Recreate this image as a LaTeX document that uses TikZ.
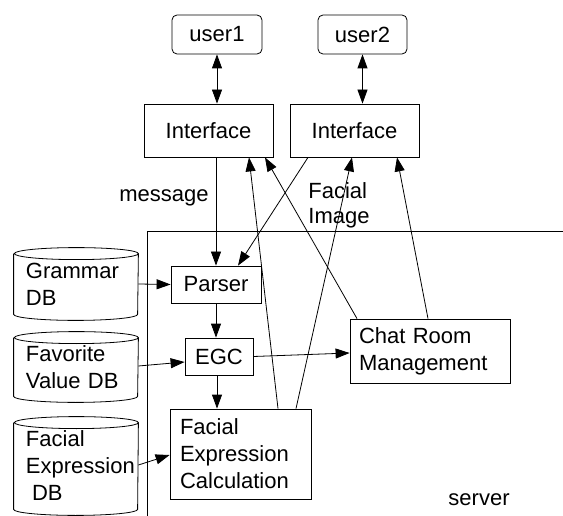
\documentclass[tikz,border=0pt]{standalone}
\usepackage{fontspec}
\setmainfont{Liberation Sans}
\usetikzlibrary{arrows.meta,calc}
\newcommand\drawdb[1]{%
  \draw ($(#1.north west)+(0,-6)$) -- ($(#1.south west)+(0,6)$)
    arc[start angle=180,end angle=360,x radius=62pt,y radius=6pt]
    -- ($(#1.north east)+(0,-6)$)
    arc[start angle=0,end angle=180,x radius=62pt,y radius=6pt]
    arc[start angle=180,end angle=360,x radius=62pt,y radius=6pt];}
\begin{document}
\begin{tikzpicture}[x=1pt,y=1pt,line width=0.8pt,
  font=\fontsize{22}{27}\selectfont,
  box/.style={draw,inner sep=0pt},
  ubox/.style={draw,rounded corners=5pt,inner sep=0pt},
  lbox/.style={draw,inner sep=0pt,align=left},
  db/.style={inner ysep=0pt,inner xsep=12pt,align=left,text width=100pt},
  arr/.style={-{Triangle[length=14pt,width=10pt]}},
  darr/.style={{Triangle[length=14pt,width=10pt]}-{Triangle[length=14pt,width=10pt]}}]
\useasboundingbox (0,0) rectangle (563,-516);
% server frame
\draw (563,-231) -- (147,-231) -- (147,-516);
% nodes
\node[ubox,minimum width=90pt,minimum height=39pt] (user1) at (217,-34.5) {user1};
\node[ubox,minimum width=89pt,minimum height=39pt] (user2) at (362.5,-34.5) {user2};
\node[box,minimum width=129pt,minimum height=53pt] (int1) at (208.5,-130.5) {Interface};
\node[box,minimum width=129pt,minimum height=53pt] (int2) at (354.5,-130.5) {Interface};
\node[box,minimum width=90pt,minimum height=37pt] (parser) at (216,-284.5) {Parser};
\node[box,minimum width=68pt,minimum height=37pt] (egc) at (219,-356.5) {EGC};
\node[lbox,minimum width=141pt,minimum height=90pt,text width=121pt] (fec) at (240.5,-454) {Facial\\Expression\\Calculation};
\node[lbox,minimum width=160pt,minimum height=64pt,text width=142pt] (chat) at (430,-351) {Chat Room\\Management};
\node[db,minimum height=72pt] (gdb) at (76,-284) {Grammar\\DB};
\node[db,minimum height=70pt] (fdb) at (76,-367) {Favorite\\Value DB};
\node[db,minimum height=98pt] (xdb) at (76,-466) {Facial\\Expression\\\hspace*{6pt}DB};
\drawdb{gdb}
\drawdb{fdb}
\drawdb{xdb}
% labels
\node[inner sep=0pt] (msg) at (164,-198) {message};
\node[inner sep=0pt,anchor=west,align=left,font=\fontsize{22}{25}\selectfont] (fimg) at (308,-205.5) {Facial\\Image};
\node[inner sep=0pt,anchor=east] (srv) at (510,-500) {server};
% connectors
\draw[darr] (user1.south) -- (user1.south |- int1.north);
\draw[darr] (user2.south) -- (user2.south |- int2.north);
\draw[arr] (parser.north |- int1.south) -- (parser.north);
\draw[arr] ([xshift=-46.5pt]int2.south) -- ([xshift=22pt]parser.north);
\draw[arr] ([xshift=37.5pt]fec.north) -- ([xshift=40.5pt]int1.south);
\draw[arr] ([xshift=-73pt]chat.north) -- ([xshift=56.5pt]int1.south);
\draw[arr] ([xshift=55.5pt]fec.north) -- ([xshift=-2.5pt]int2.south);
\draw[arr] ([xshift=-2pt]chat.north) -- ([xshift=42.5pt]int2.south);
\draw[arr] (gdb.east) -- (parser.west);
\draw[arr] ([yshift=1pt]fdb.east) -- ([yshift=-5.5pt]egc.west);
\draw[arr] ([yshift=1pt]xdb.east) -- ([yshift=-1pt]fec.west);
\draw[arr] (parser.south) -- (parser.south |- egc.north);
\draw[arr] ([xshift=-2pt]egc.south) -- ([xshift=-2pt]egc.south |- fec.north);
\draw[arr] (egc.east) -- ([yshift=-2pt]chat.west);
\end{tikzpicture}
\end{document}
